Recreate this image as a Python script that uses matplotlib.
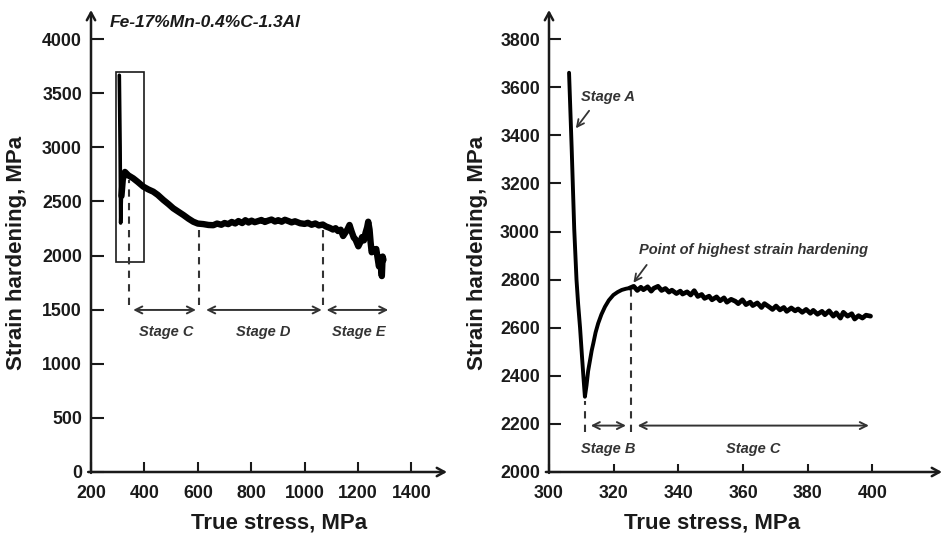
import matplotlib
matplotlib.use("Agg")
import matplotlib.pyplot as plt
from matplotlib.patches import Rectangle

plt.rcParams['font.family'] = ['Liberation Sans', 'DejaVu Sans']
plt.rcParams['font.weight'] = 'bold'

# ---------------- data ----------------
overview_stress = [306, 309, 311, 314, 319, 327, 340, 358, 375, 396, 415, 433, 450, 471, 490,
                   508, 530, 546, 565, 583, 600, 621, 640, 658, 672, 688, 700, 714, 727, 740,
                   752, 766, 778, 790, 801, 813, 826, 838, 851, 863, 876, 889, 901, 914, 926,
                   939, 951, 964, 983, 1000, 1012, 1026, 1040, 1053, 1068, 1080, 1093, 1106,
                   1116, 1125, 1135, 1144, 1152, 1160, 1168, 1176, 1184, 1190, 1201, 1208,
                   1215, 1222, 1228, 1234, 1238, 1243, 1247, 1251, 1256, 1262, 1268, 1273,
                   1278, 1283, 1289, 1292, 1295]
overview_hardening = [3665, 3000, 2300, 2550, 2700, 2772, 2740, 2713, 2680, 2636, 2610, 2590,
                      2560, 2513, 2475, 2436, 2400, 2374, 2340, 2312, 2295, 2290, 2282, 2280,
                      2295, 2284, 2300, 2290, 2310, 2296, 2318, 2300, 2326, 2305, 2322, 2308,
                      2318, 2328, 2310, 2322, 2332, 2314, 2326, 2312, 2330, 2318, 2306, 2316,
                      2298, 2292, 2302, 2284, 2296, 2278, 2286, 2268, 2256, 2240, 2252, 2226,
                      2238, 2180, 2210, 2240, 2282, 2220, 2165, 2150, 2085, 2120, 2170, 2140,
                      2210, 2260, 2312, 2240, 2120, 2030, 2060, 2045, 2060, 1980, 1900, 1940,
                      1810, 1990, 1960]

detail_stress = [306.2, 307.0, 307.8, 308.5, 309.0, 309.6, 310.2, 310.7, 311.1, 311.6, 312.1,
                 312.7, 313.2, 313.7, 314.4, 315.2, 316.2, 317.3, 318.5, 319.9, 321.2, 322.5,
                 323.8, 325.0, 326.2, 327.3, 328.4, 329.2, 330.5, 331.6, 332.4, 333.7, 334.8,
                 336.0, 337.1, 338.0, 339.4, 340.6, 341.3, 342.7, 343.8, 344.9, 346.0, 347.2,
                 348.1, 349.5, 350.4, 351.8, 352.9, 354.1, 355.0, 356.3, 357.6, 358.5, 359.8,
                 360.9, 362.2, 363.0, 364.4, 365.7, 366.6, 367.9, 369.1, 370.2, 371.4, 372.6,
                 373.5, 374.9, 376.1, 377.0, 378.3, 379.5, 380.8, 381.7, 383.0, 384.4, 385.3,
                 386.6, 387.9, 388.8, 390.1, 391.0, 392.3, 393.6, 394.5, 395.7, 396.9, 398.0,
                 399.4]
detail_hardening = [3660, 3350, 3010, 2800, 2700, 2600, 2480, 2385, 2313, 2360, 2420,
                    2466, 2505, 2535, 2580, 2618, 2655, 2687, 2714, 2736, 2748, 2757,
                    2762, 2765, 2772, 2755, 2768, 2758, 2770, 2752, 2764, 2772, 2755,
                    2763, 2748, 2756, 2742, 2752, 2740, 2749, 2736, 2754, 2730, 2738,
                    2722, 2731, 2716, 2728, 2712, 2724, 2706, 2718, 2710, 2700, 2716,
                    2696, 2706, 2692, 2703, 2684, 2700, 2688, 2676, 2690, 2674, 2684,
                    2668, 2682, 2670, 2678, 2664, 2676, 2660, 2672, 2656, 2668, 2654,
                    2670, 2648, 2662, 2640, 2664, 2648, 2658, 2636, 2650, 2640, 2652,
                    2648]

left_xticks = [200, 400, 600, 800, 1000, 1200, 1400]
left_yticks = [0, 500, 1000, 1500, 2000, 2500, 3000, 3500, 4000]
right_xticks = [300, 320, 340, 360, 380, 400]
right_yticks = [2000, 2200, 2400, 2600, 2800, 3000, 3200, 3400, 3600, 3800]

alloy = "Fe-17%Mn-0.4%C-1.3Al"
left_stage_bounds = [343, 605, 1070]
left_stage_arrows = [(358, 593), (631, 1064), (1082, 1313)]
left_stage_labels = ["Stage C", "Stage D", "Stage E"]
left_label_x = [480, 845, 1204]
right_stage_bounds = [311.1, 325.2]
right_stage_arrows = [(312.9, 323.8), (327.4, 398.9)]
right_stage_labels = ["Stage B", "Stage C"]
right_label_x = [318.3, 363.3]

# ---------------- figure ----------------
fig = plt.figure(figsize=(9.43, 5.36), dpi=100)
axL = fig.add_axes([91/943, 64/536, 356/943, 462/536])
axR = fig.add_axes([549/943, 64/536, 393/943, 462/536])

dark = '#1a1a1a'
gray = '#333333'


def style_axes(ax, xlim, ylim, xticks, yticks, xlen, ylen):
    ax.set_xlim(*xlim)
    ax.set_ylim(*ylim)
    ax.set_xticks(xticks)
    ax.set_yticks(yticks)
    for s in ax.spines.values():
        s.set_visible(False)
    ax.tick_params(axis='y', direction='in', length=ylen, width=1.5, pad=6.5,
                   labelsize=12.8, colors=dark)
    ax.tick_params(axis='x', direction='in', length=xlen, width=1.5, pad=9,
                   labelsize=12.8, colors=dark)
    for lab in ax.get_xticklabels() + ax.get_yticklabels():
        lab.set_fontweight('bold')
    ax.patch.set_alpha(0)
    # axis lines with arrow heads
    ax.annotate('', xy=(1.0, 0), xytext=(-0.008, 0), xycoords='axes fraction',
                arrowprops=dict(arrowstyle='->,head_length=0.55,head_width=0.3', lw=1.8,
                                color=dark, shrinkA=0, shrinkB=0),
                annotation_clip=False)
    ax.annotate('', xy=(0, 1.0), xytext=(0, -0.002), xycoords='axes fraction',
                arrowprops=dict(arrowstyle='->,head_length=0.55,head_width=0.3', lw=1.8,
                                color=dark, shrinkA=0, shrinkB=0),
                annotation_clip=False)


style_axes(axL, (200, 1533), (0, 4268), left_xticks, left_yticks, 7.5, 9)
style_axes(axR, (300, 421.5), (2000, 3921), right_xticks, right_yticks, 6, 8.5)

for ax, xlx, ylx in [(axL, 0.527, -0.208), (axR, 0.416, -0.183)]:
    ax.set_xlabel("True stress, MPa", fontsize=16, fontweight='bold', color=dark, va='center')
    ax.xaxis.set_label_coords(xlx, -0.110)
    ax.set_ylabel("Strain hardening, MPa", fontsize=16, fontweight='bold', color=dark, va='center')
    ax.yaxis.set_label_coords(ylx, 0.475)

# ---------------- left panel ----------------
axL.plot(overview_stress[:4], overview_hardening[:4], color='black', lw=2.6,
         solid_joinstyle='round', solid_capstyle='round')
axL.plot(overview_stress[3:], overview_hardening[3:], color='black', lw=4.6,
         solid_joinstyle='round', solid_capstyle='round')
axL.add_patch(Rectangle((293.6, 1943), 106, 1749, fill=False, lw=1.2, ec=dark))
axL.text(271, 4150, alloy, fontsize=12.5, fontweight='bold', style='italic',
         color=dark, va='center', ha='left')

left_tops = [2700, 2290, 2268]
for xb, yt in zip(left_stage_bounds, left_tops):
    axL.plot([xb, xb], [1540, yt], ls=(0, (3.5, 3)), color=gray, lw=1.5)
for (x0, x1) in left_stage_arrows:
    axL.annotate('', xy=(x1, 1497), xytext=(x0, 1497),
                 arrowprops=dict(arrowstyle='<->,head_length=0.5,head_width=0.25', lw=1.4,
                                 color=gray, shrinkA=0, shrinkB=0))
for lab, lx in zip(left_stage_labels, left_label_x):
    axL.text(lx, 1293, lab, fontsize=10.5, fontweight='bold', style='italic',
             color=gray, ha='center', va='center')

# ---------------- right panel ----------------
axR.plot(detail_stress[:24], detail_hardening[:24], color='black', lw=2.8,
         solid_joinstyle='round', solid_capstyle='round')
axR.plot(detail_stress[23:], detail_hardening[23:], color='black', lw=3.4,
         solid_joinstyle='round', solid_capstyle='round')

right_tops = [2295, 2755]
for xb, yt in zip(right_stage_bounds, right_tops):
    axR.plot([xb, xb], [2165, yt], ls=(0, (3.5, 3)), color=gray, lw=1.5)
for (x0, x1) in right_stage_arrows:
    axR.annotate('', xy=(x1, 2193), xytext=(x0, 2193),
                 arrowprops=dict(arrowstyle='<->,head_length=0.5,head_width=0.25', lw=1.4,
                                 color=gray, shrinkA=0, shrinkB=0))
for lab, lx in zip(right_stage_labels, right_label_x):
    axR.text(lx, 2096, lab, fontsize=10.5, fontweight='bold', style='italic',
             color=gray, ha='center', va='center')

axR.text(309.9, 3560, "Stage A", fontsize=10.5, fontweight='bold', style='italic',
         color=gray, ha='left', va='center')
axR.annotate('', xy=(308.3, 3429), xytext=(312.4, 3502),
             arrowprops=dict(arrowstyle='->,head_length=0.5,head_width=0.25', lw=1.3,
                             color=gray, shrinkA=0, shrinkB=0))
axR.text(327.9, 2923, "Point of highest strain hardening", fontsize=10.5, fontweight='bold',
         style='italic', color=gray, ha='left', va='center')
axR.annotate('', xy=(326.1, 2787), xytext=(330.2, 2861),
             arrowprops=dict(arrowstyle='->,head_length=0.5,head_width=0.25', lw=1.3,
                             color=gray, shrinkA=0, shrinkB=0))

fig.savefig("out.png", dpi=100)
